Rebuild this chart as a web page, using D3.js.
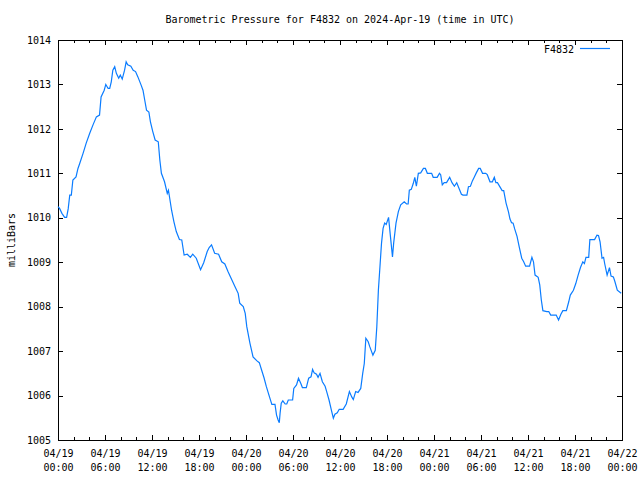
<!DOCTYPE html>
<html>
<head>
<meta charset="utf-8">
<script src="https://cdn.jsdelivr.net/npm/d3@7"></script>
<style>
  html, body { margin: 0; padding: 0; background: #fff; }
  svg { display: block; }
  text { font-family: "DejaVu Sans Mono", "Liberation Mono", monospace; font-size: 10px; fill: #000; }
</style>
</head>
<body>
<svg id="chart" width="640" height="480"></svg>
<script>
// ---- data (hours since 2024-04-19 00:00 UTC, pressure in millibars) ----
const hours = [
  0.0, 0.2, 0.5, 0.85, 1.1, 1.3, 1.5, 1.7, 1.9, 2.3, 2.55, 2.75, 3.2, 3.6, 4.05, 4.47, 4.9, 5.3, 5.5, 5.9,
  6.1, 6.4, 6.6, 6.8, 7.0, 7.24, 7.45, 7.75, 7.95, 8.2, 8.5, 8.7, 8.9, 9.3, 9.6, 9.9, 10.2, 10.6, 10.85, 11.07,
  11.3, 11.6, 11.8, 12.1, 12.4, 12.8, 13.0, 13.2, 13.6, 13.95, 14.1, 14.5, 14.8, 15.1, 15.5, 15.8, 16.1, 16.5, 16.9, 17.2,
  17.65, 18.2, 18.6, 19.05, 19.3, 19.6, 20.0, 20.5, 20.9, 21.3, 21.7, 22.2, 22.6, 23.0, 23.2, 23.65, 23.9, 24.1, 24.5, 24.9,
  25.4, 25.7, 26.0, 26.3, 26.6, 27.0, 27.3, 27.7, 27.9, 28.1, 28.25, 28.35, 28.5, 28.7, 29.0, 29.2, 29.4, 29.95, 30.1, 30.45,
  30.7, 31.0, 31.2, 31.7, 32.0, 32.3, 32.5, 32.7, 33.0, 33.2, 33.45, 33.75, 34.1, 34.3, 34.6, 34.9, 35.15, 35.35, 35.65, 35.9,
  36.4, 36.8, 37.2, 37.5, 37.7, 38.0, 38.3, 38.65, 38.9, 39.1, 39.3, 39.6, 39.8, 40.2, 40.5, 40.7, 40.9, 41.1, 41.3, 41.5,
  41.7, 41.9, 42.2, 42.4, 42.7, 42.85, 43.15, 43.45, 43.75, 44.2, 44.5, 44.7, 44.85, 45.1, 45.35, 45.55, 45.75, 46.0, 46.3, 46.65,
  46.9, 47.15, 47.7, 47.9, 48.4, 48.7, 48.85, 49.06, 49.3, 49.6, 50.0, 50.3, 50.6, 50.9, 51.2, 51.5, 51.7, 52.2, 52.4, 52.65,
  52.9, 53.15, 53.4, 53.7, 53.9, 54.2, 54.6, 54.8, 55.15, 55.45, 55.7, 55.9, 56.1, 56.4, 56.7, 56.9, 57.2, 57.5, 57.7, 57.9,
  58.1, 58.3, 58.6, 58.9, 59.2, 59.45, 59.7, 60.2, 60.5, 60.7, 60.9, 61.3, 61.5, 61.7, 61.9, 62.4, 62.65, 62.9, 63.6, 63.9,
  64.2, 64.45, 64.9, 65.2, 65.4, 65.8, 66.1, 66.4, 66.7, 67.0, 67.2, 67.4, 67.75, 67.9, 68.5, 68.8, 69.0, 69.2, 69.45, 69.65,
  69.8, 70.1, 70.4, 70.6, 70.9, 71.1, 71.4, 71.9
];
const pressure = [
  1010.25, 1010.21, 1010.10, 1010.01, 1010.01, 1010.20, 1010.51, 1010.51, 1010.85, 1010.92, 1011.11, 1011.21, 1011.45, 1011.68, 1011.90, 1012.09, 1012.27, 1012.31, 1012.72, 1012.87,
  1013.00, 1012.91, 1012.91, 1013.06, 1013.32, 1013.40, 1013.25, 1013.14, 1013.21, 1013.12, 1013.32, 1013.51, 1013.44, 1013.41, 1013.32, 1013.29, 1013.17, 1012.99, 1012.87, 1012.65,
  1012.42, 1012.38, 1012.16, 1011.94, 1011.75, 1011.71, 1011.30, 1011.00, 1010.81, 1010.55, 1010.62, 1010.17, 1009.91, 1009.69, 1009.51, 1009.50, 1009.16, 1009.18, 1009.11, 1009.18,
  1009.09, 1008.83, 1008.99, 1009.24, 1009.33, 1009.39, 1009.20, 1009.18, 1009.01, 1008.96, 1008.79, 1008.60, 1008.45, 1008.30, 1008.08, 1008.00, 1007.85, 1007.55, 1007.18, 1006.87,
  1006.78, 1006.74, 1006.57, 1006.40, 1006.20, 1005.97, 1005.80, 1005.80, 1005.56, 1005.45, 1005.39, 1005.60, 1005.83, 1005.88, 1005.81, 1005.81, 1005.90, 1005.90, 1006.16, 1006.24,
  1006.39, 1006.27, 1006.18, 1006.18, 1006.39, 1006.42, 1006.59, 1006.51, 1006.48, 1006.41, 1006.50, 1006.31, 1006.21, 1006.09, 1005.90, 1005.67, 1005.49, 1005.58, 1005.61, 1005.69,
  1005.69, 1005.81, 1006.09, 1005.97, 1005.91, 1006.09, 1006.07, 1006.16, 1006.50, 1006.72, 1007.29, 1007.21, 1007.10, 1006.91, 1007.02, 1007.55, 1008.37, 1008.90, 1009.43, 1009.76,
  1009.88, 1009.85, 1010.01, 1009.65, 1009.12, 1009.43, 1009.88, 1010.14, 1010.29, 1010.36, 1010.31, 1010.31, 1010.62, 1010.64, 1010.77, 1010.91, 1010.71, 1011.00, 1011.01, 1011.11,
  1011.11, 1011.00, 1011.00, 1010.91, 1010.91, 1011.00, 1010.97, 1010.74, 1010.79, 1010.79, 1010.91, 1010.79, 1010.71, 1010.79, 1010.66, 1010.53, 1010.51, 1010.51, 1010.70, 1010.71,
  1010.83, 1010.92, 1011.01, 1011.11, 1011.11, 1011.00, 1011.00, 1010.97, 1010.81, 1010.81, 1010.91, 1010.79, 1010.79, 1010.70, 1010.61, 1010.61, 1010.33, 1010.14, 1009.97, 1009.89,
  1009.88, 1009.75, 1009.58, 1009.33, 1009.09, 1009.01, 1008.91, 1008.91, 1009.11, 1009.01, 1008.71, 1008.66, 1008.49, 1008.15, 1007.91, 1007.89, 1007.89, 1007.81, 1007.81, 1007.70,
  1007.83, 1007.91, 1007.91, 1008.11, 1008.26, 1008.37, 1008.52, 1008.71, 1008.88, 1009.01, 1008.97, 1009.11, 1009.11, 1009.51, 1009.51, 1009.61, 1009.60, 1009.46, 1009.09, 1009.11,
  1008.96, 1008.71, 1008.88, 1008.69, 1008.67, 1008.56, 1008.37, 1008.30
];
const yTicks = [1005, 1006, 1007, 1008, 1009, 1010, 1011, 1012, 1013, 1014];
const seriesName = "F4832";
const titleText = "Barometric Pressure for F4832 on 2024-Apr-19 (time in UTC)";
const yLabelText = "milliBars";

// ---- layout ----
const W = 640, H = 480;
const L = 58, R = 622, T = 40, B = 440;
const start = new Date(Date.UTC(2024, 3, 19, 0, 0));
const end = new Date(Date.UTC(2024, 3, 22, 0, 0));
const data = hours.map((h, i) => ({ t: new Date(start.getTime() + h * 3600e3), v: pressure[i] }));

const svg = d3.select("#chart");
svg.append("rect").attr("width", W).attr("height", H).attr("fill", "#fff");

const x = d3.scaleUtc().domain([start, end]).range([L, R]);
const y = d3.scaleLinear().domain([1005, 1014]).range([B, T]);

const majorX = d3.utcHour.every(6).range(start, new Date(end.getTime() + 1));
const minorX = d3.utcHour.every(2).range(start, new Date(end.getTime() + 1)).filter(d => d.getUTCHours() % 6 !== 0);
const fmtDate = d3.utcFormat("%m/%d");
const fmtTime = d3.utcFormat("%H:%M");

function styleAxis(g) {
  g.select(".domain").remove();
  g.selectAll("line").attr("stroke", "#000").attr("shape-rendering", "crispEdges");
}

// bottom major
const gxb = svg.append("g").attr("transform", `translate(0,${B})`)
  .call(d3.axisBottom(x).tickValues(majorX).tickSize(-5).tickFormat(""));
styleAxis(gxb);
// bottom labels
gxb.selectAll(".tick").each(function (d) {
  const t = d3.select(this).append("text").attr("text-anchor", "middle").attr("fill", "#000");
  t.append("tspan").attr("x", 0).attr("y", 17).text(fmtDate(d));
  t.append("tspan").attr("x", 0).attr("y", 31).text(fmtTime(d));
});
// bottom minor
styleAxis(svg.append("g").attr("transform", `translate(0,${B})`)
  .call(d3.axisBottom(x).tickValues(minorX).tickSize(-3).tickFormat("")));
// top major + minor
styleAxis(svg.append("g").attr("transform", `translate(0,${T})`)
  .call(d3.axisTop(x).tickValues(majorX).tickSize(-5).tickFormat("")));
styleAxis(svg.append("g").attr("transform", `translate(0,${T})`)
  .call(d3.axisTop(x).tickValues(minorX).tickSize(-3).tickFormat("")));

// left
const gyl = svg.append("g").attr("transform", `translate(${L},0)`)
  .call(d3.axisLeft(y).tickValues(yTicks).tickSize(-5).tickPadding(7).tickFormat(d3.format("d")));
styleAxis(gyl);
gyl.selectAll("text").attr("font-family", null).attr("font-size", null).attr("fill", "#000");
// right
styleAxis(svg.append("g").attr("transform", `translate(${R},0)`)
  .call(d3.axisRight(y).tickValues(yTicks).tickSize(-5).tickFormat("")));

// frame
svg.append("rect").attr("x", L + 0.5).attr("y", T + 0.5).attr("width", R - L - 1 + 1).attr("height", B - T)
  .attr("fill", "none").attr("stroke", "#000").attr("stroke-width", 1).attr("shape-rendering", "crispEdges");

// line
const line = d3.line().x(d => x(d.t)).y(d => y(d.v));
svg.append("path").datum(data).attr("d", line)
  .attr("fill", "none").attr("stroke", "#0a7cff").attr("stroke-width", 1.2);

// title
svg.append("text").attr("x", (L + R) / 2).attr("y", 23).attr("text-anchor", "middle").text(titleText);
// y label
svg.append("text").attr("transform", `translate(15,${(T + B) / 2}) rotate(-90)`)
  .attr("text-anchor", "middle").text(yLabelText);

// legend
svg.append("text").attr("x", 574).attr("y", 53).attr("text-anchor", "end").text(seriesName);
svg.append("line").attr("x1", 580).attr("x2", 610).attr("y1", 48.5).attr("y2", 48.5)
  .attr("stroke", "#0a7cff").attr("stroke-width", 1.2);
</script>
</body>
</html>
